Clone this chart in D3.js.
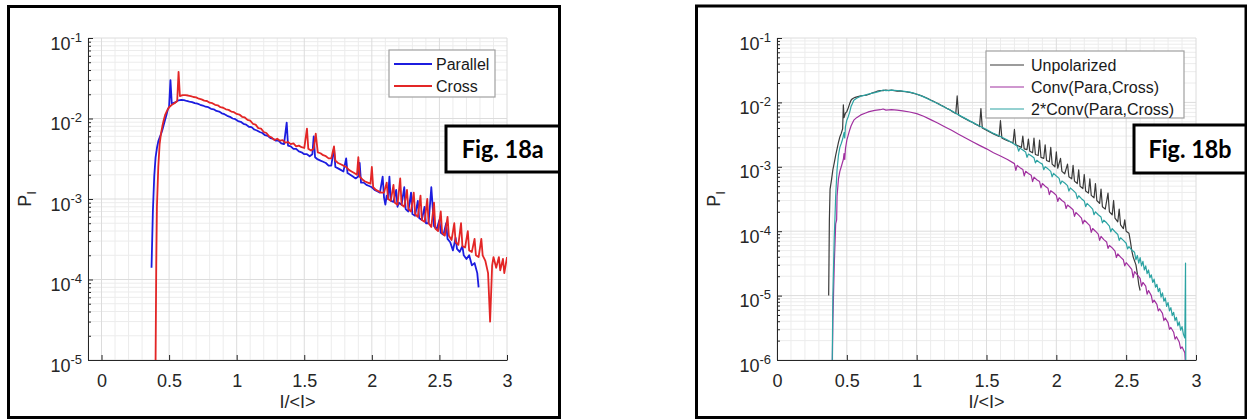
<!DOCTYPE html>
<html>
<head>
<meta charset="utf-8">
<script src="https://cdn.jsdelivr.net/npm/d3@7"></script>
<style>
  html, body { margin: 0; padding: 0; background: #fff; }
  svg { display: block; font-family: "Liberation Sans", Arial, Helvetica, sans-serif; }
</style>
</head>
<body>
<svg id="fig" width="1247" height="420"></svg>
<script>
// ---------- data: intensity PDFs, x = I/<I>, value = P_I ----------
const xTickValues = [0, 0.5, 1, 1.5, 2, 2.5, 3];

const parallel = [
  [0.37,1.4e-4],[0.38,7e-4],[0.39,1.9e-3],[0.40,3.3e-3],[0.41,4.3e-3],[0.42,5.2e-3],[0.43,5.8e-3],
  [0.44,6.4e-3],[0.45,7.2e-3],[0.46,8.3e-3],[0.47,9.6e-3],[0.48,1.1e-2],[0.49,1.28e-2],[0.50,1.4e-2],
  [0.51,3.0e-2],[0.52,1.5e-2],[0.53,1.55e-2],[0.55,1.6e-2],[0.57,1.68e-2],[0.59,1.7e-2],[0.61,1.69e-2],
  [0.63,1.65e-2],[0.65,1.62e-2],[0.67,1.6e-2],[0.69,1.55e-2],[0.71,1.53e-2],[0.73,1.48e-2],[0.75,1.45e-2],
  [0.77,1.4e-2],[0.79,1.38e-2],[0.81,1.32e-2],[0.83,1.3e-2],[0.85,1.24e-2],[0.87,1.22e-2],[0.89,1.16e-2],
  [0.91,1.13e-2],[0.93,1.08e-2],[0.95,1.05e-2],[0.97,1.0e-2],[0.99,9.8e-3],[1.01,9.3e-3],[1.03,9.1e-3],
  [1.05,8.6e-3],[1.07,8.4e-3],[1.09,7.9e-3],[1.11,7.8e-3],[1.13,7.3e-3],[1.15,7.1e-3],[1.17,6.8e-3],
  [1.19,6.6e-3],[1.21,6.2e-3],[1.23,6.1e-3],[1.25,5.7e-3],[1.27,5.6e-3],[1.29,5.3e-3],[1.31,5.3e-3],
  [1.33,4.9e-3],[1.35,4.8e-3],[1.37,8.9e-3],[1.38,4.6e-3],[1.40,4.5e-3],[1.42,4.2e-3],[1.44,4.2e-3],
  [1.46,3.9e-3],[1.48,3.8e-3],[1.50,3.6e-3],[1.52,3.6e-3],[1.54,3.4e-3],[1.56,3.6e-3],[1.57,6.0e-3],
  [1.58,3.3e-3],[1.60,3.1e-3],[1.62,3.0e-3],[1.64,2.9e-3],[1.66,2.8e-3],[1.68,2.6e-3],[1.70,2.6e-3],
  [1.72,4.3e-3],[1.73,2.5e-3],[1.75,2.4e-3],[1.77,2.3e-3],[1.79,2.2e-3],[1.81,3.2e-3],[1.82,2.1e-3],
  [1.84,2.0e-3],[1.86,1.9e-3],[1.88,1.8e-3],[1.90,1.9e-3],[1.91,2.8e-3],[1.92,1.6e-3],[1.94,1.6e-3],
  [1.96,1.5e-3],[1.98,1.45e-3],[2.00,1.4e-3],[2.02,1.3e-3],[2.04,1.25e-3],[2.06,1.2e-3],[2.08,1.9e-3],
  [2.09,1.05e-3],[2.10,8.5e-4],[2.11,1.1e-3],[2.12,1.0e-3],[2.13,1.9e-3],[2.14,9.5e-4],[2.16,9.2e-4],
  [2.18,1.3e-3],[2.19,8.0e-4],[2.20,9.0e-4],[2.22,8.5e-4],[2.24,1.4e-3],[2.25,7.5e-4],[2.27,7.0e-4],
  [2.29,1.2e-3],[2.30,6.5e-4],[2.32,6.2e-4],[2.34,9.5e-4],[2.35,5.8e-4],[2.37,5.5e-4],[2.39,8.0e-4],
  [2.40,5.0e-4],[2.42,5.0e-4],[2.44,1.4e-3],[2.46,4.6e-4],[2.48,4.2e-4],[2.50,5.5e-4],[2.51,3.8e-4],
  [2.53,3.6e-4],[2.55,5.0e-4],[2.56,3.2e-4],[2.58,2.9e-4],[2.60,2.3e-4],[2.62,3.3e-4],[2.63,2.4e-4],
  [2.65,2.2e-4],[2.67,2.6e-4],[2.68,2.0e-4],[2.70,1.8e-4],[2.72,2.0e-4],[2.74,1.5e-4],[2.76,1.6e-4],
  [2.78,1.2e-4],[2.79,8e-5]
];

const cross = [
  [0.395,5e-6],[0.40,1e-5],[0.405,1.5e-4],[0.41,8e-4],[0.42,2.5e-3],[0.43,4.8e-3],[0.44,6.5e-3],
  [0.45,8.0e-3],[0.46,9.5e-3],[0.47,1.1e-2],[0.48,1.2e-2],[0.49,1.3e-2],[0.50,1.38e-2],[0.52,1.48e-2],
  [0.54,1.55e-2],[0.56,1.65e-2],[0.57,3.8e-2],[0.58,1.9e-2],[0.60,1.95e-2],[0.62,1.95e-2],[0.64,1.93e-2],
  [0.66,1.9e-2],[0.68,1.85e-2],[0.70,1.83e-2],[0.72,1.76e-2],[0.74,1.73e-2],[0.76,1.67e-2],[0.78,1.65e-2],
  [0.80,1.57e-2],[0.82,1.55e-2],[0.84,1.48e-2],[0.86,1.46e-2],[0.88,1.38e-2],[0.90,1.36e-2],[0.92,1.3e-2],
  [0.94,1.28e-2],[0.96,1.22e-2],[0.98,1.2e-2],[1.00,1.14e-2],[1.02,1.12e-2],[1.04,1.05e-2],[1.06,1.03e-2],
  [1.08,9.6e-3],[1.10,9.4e-3],[1.12,8.6e-3],[1.14,8.4e-3],[1.16,7.6e-3],[1.18,7.5e-3],[1.20,6.8e-3],
  [1.22,6.6e-3],[1.24,6.0e-3],[1.26,5.8e-3],[1.28,5.4e-3],[1.30,5.6e-3],[1.32,5.3e-3],[1.34,5.4e-3],
  [1.36,5.0e-3],[1.38,5.1e-3],[1.40,4.8e-3],[1.42,4.9e-3],[1.44,4.5e-3],[1.46,4.6e-3],[1.48,4.4e-3],
  [1.50,4.3e-3],[1.52,7.5e-3],[1.53,4.2e-3],[1.55,4.0e-3],[1.57,4.2e-3],[1.585,6.5e-3],[1.60,3.8e-3],
  [1.62,3.7e-3],[1.64,3.5e-3],[1.66,3.4e-3],[1.68,3.2e-3],[1.70,3.2e-3],[1.72,4.5e-3],[1.73,3.0e-3],
  [1.75,2.8e-3],[1.77,2.7e-3],[1.79,2.6e-3],[1.81,2.5e-3],[1.83,2.3e-3],[1.85,2.2e-3],[1.87,2.1e-3],
  [1.89,2.0e-3],[1.90,3.3e-3],[1.91,1.9e-3],[1.93,1.75e-3],[1.95,1.65e-3],[1.97,1.6e-3],[1.99,1.55e-3],
  [2.00,2.5e-3],[2.01,1.4e-3],[2.03,1.3e-3],[2.05,1.25e-3],[2.07,1.2e-3],[2.09,1.2e-3],[2.11,1.6e-3],
  [2.12,1.0e-3],[2.14,9.5e-4],[2.16,1.5e-3],[2.17,9.0e-4],[2.19,8.5e-4],[2.21,1.8e-3],[2.22,8.5e-4],
  [2.24,8.0e-4],[2.26,1.3e-3],[2.27,7.5e-4],[2.29,7.0e-4],[2.31,1.2e-3],[2.32,6.5e-4],[2.34,6.0e-4],
  [2.36,1.1e-3],[2.37,5.5e-4],[2.39,5.2e-4],[2.41,1.0e-3],[2.42,5.0e-4],[2.44,4.5e-4],[2.46,9.0e-4],
  [2.47,4.3e-4],[2.49,4.0e-4],[2.51,7.0e-4],[2.52,3.8e-4],[2.54,3.5e-4],[2.56,6.0e-4],[2.57,3.5e-4],
  [2.59,3.1e-4],[2.61,5.0e-4],[2.62,2.9e-4],[2.64,2.7e-4],[2.66,5.0e-4],[2.67,2.6e-4],[2.69,2.5e-4],
  [2.71,4.0e-4],[2.72,2.3e-4],[2.74,2.2e-4],[2.76,3.2e-4],[2.77,2.0e-4],[2.79,1.9e-4],[2.81,3.2e-4],
  [2.82,2.0e-4],[2.84,1.7e-4],[2.86,1.2e-4],[2.875,3e-5],[2.89,1.5e-4],[2.90,1.9e-4],[2.92,1.4e-4],
  [2.94,1.9e-4],[2.95,1.3e-4],[2.97,1.8e-4],[2.98,1.2e-4],[3.00,1.9e-4]
];

const unpolarized = [
  [0.37,1.0e-5],[0.375,1.5e-4],[0.38,4.5e-4],[0.39,6.2e-4],[0.40,9e-4],[0.41,1.15e-3],[0.42,1.5e-3],
  [0.43,1.9e-3],[0.44,2.4e-3],[0.45,2.9e-3],[0.46,3.3e-3],[0.47,3.9e-3],[0.475,9.2e-3],[0.48,5.8e-3],
  [0.49,6.8e-3],[0.50,7.2e-3],[0.51,8.2e-3],[0.52,9.5e-3],[0.53,1.08e-2],[0.54,1.14e-2],[0.56,1.2e-2],
  [0.58,1.23e-2],[0.60,1.26e-2],[0.62,1.28e-2],[0.64,1.3e-2],[0.66,1.34e-2],[0.68,1.4e-2],[0.70,1.44e-2],
  [0.72,1.5e-2],[0.74,1.53e-2],[0.76,1.52e-2],[0.78,1.56e-2],[0.80,1.52e-2],[0.82,1.55e-2],[0.84,1.52e-2],
  [0.86,1.5e-2],[0.88,1.51e-2],[0.90,1.48e-2],[0.92,1.47e-2],[0.94,1.44e-2],[0.96,1.42e-2],[0.98,1.38e-2],
  [1.00,1.34e-2],[1.02,1.3e-2],[1.04,1.25e-2],[1.06,1.2e-2],[1.08,1.15e-2],[1.10,1.09e-2],[1.12,1.04e-2],
  [1.14,9.9e-3],[1.16,9.4e-3],[1.18,8.9e-3],[1.20,8.5e-3],[1.22,8.0e-3],[1.24,7.6e-3],[1.26,7.1e-3],
  [1.28,6.7e-3],[1.29,1.26e-2],[1.30,6.4e-3],[1.32,6.0e-3],[1.34,5.7e-3],[1.36,5.4e-3],[1.38,5.1e-3],
  [1.40,4.9e-3],[1.42,4.6e-3],[1.44,4.4e-3],[1.45,4.2e-3],[1.46,8.0e-3],[1.47,4.0e-3],[1.49,3.8e-3],
  [1.51,3.6e-3],[1.53,3.4e-3],[1.55,3.25e-3],[1.57,3.1e-3],[1.59,2.95e-3],[1.60,5.2e-3],[1.61,2.8e-3],
  [1.63,2.65e-3],[1.65,2.55e-3],[1.67,2.45e-3],[1.69,2.35e-3],[1.70,3.8e-3],[1.71,2.2e-3],[1.73,2.1e-3],
  [1.75,2.0e-3],[1.76,3.0e-3],[1.77,1.9e-3],[1.79,1.85e-3],[1.80,2.7e-3],[1.81,1.75e-3],[1.83,1.65e-3],
  [1.84,2.8e-3],[1.85,1.55e-3],[1.87,1.5e-3],[1.88,2.6e-3],[1.89,1.4e-3],[1.91,1.35e-3],[1.92,2.2e-3],
  [1.93,1.25e-3],[1.95,1.2e-3],[1.96,2.0e-3],[1.97,1.1e-3],[1.99,1.0e-3],[2.00,1.7e-3],[2.01,9.5e-4],
  [2.03,1.35e-3],[2.04,8.5e-4],[2.06,7.8e-4],[2.08,1.1e-3],[2.09,7.0e-4],[2.11,6.5e-4],[2.12,1.05e-3],
  [2.13,6.0e-4],[2.15,5.5e-4],[2.16,9.0e-4],[2.17,5.0e-4],[2.19,4.6e-4],[2.20,7.6e-4],[2.21,4.2e-4],
  [2.23,3.9e-4],[2.24,6.5e-4],[2.25,3.6e-4],[2.27,3.3e-4],[2.28,5.5e-4],[2.29,3.0e-4],[2.31,2.7e-4],
  [2.32,4.5e-4],[2.33,2.4e-4],[2.35,2.2e-4],[2.37,3.9e-4],[2.38,2.0e-4],[2.40,1.8e-4],[2.41,3.0e-4],
  [2.42,1.6e-4],[2.44,1.4e-4],[2.45,2.2e-4],[2.46,1.25e-4],[2.48,1.1e-4],[2.49,1.5e-4],[2.50,1.0e-4],
  [2.52,9.3e-5],[2.53,7e-5],[2.54,5e-5],[2.55,4e-5],[2.57,3e-5],[2.58,2.2e-5],[2.59,1.5e-5],[2.60,1.2e-5]
];

const convParaCross = [
  [0.395,6e-7],[0.40,4e-6],[0.41,3e-5],[0.42,1.3e-4],[0.427,1.5e-4],[0.43,3.5e-4],[0.44,6.5e-4],
  [0.45,8.5e-4],[0.46,1.0e-3],[0.475,1.3e-3],[0.48,1.6e-3],[0.485,1.3e-3],[0.49,1.9e-3],[0.50,2.6e-3],
  [0.51,3.1e-3],[0.52,3.7e-3],[0.53,4.3e-3],[0.54,4.8e-3],[0.55,5.3e-3],[0.57,5.8e-3],[0.60,6.4e-3],
  [0.63,6.8e-3],[0.66,7.2e-3],[0.70,7.5e-3],[0.74,7.7e-3],[0.76,7.9e-3],[0.78,7.6e-3],[0.82,7.7e-3],
  [0.86,7.6e-3],[0.90,7.4e-3],[0.95,7.1e-3],[1.00,6.7e-3],[1.05,6.1e-3],[1.10,5.4e-3],[1.15,4.8e-3],
  [1.20,4.2e-3],[1.25,3.7e-3],[1.30,3.2e-3],[1.35,2.8e-3],[1.40,2.45e-3],[1.45,2.15e-3],[1.50,1.9e-3],
  [1.55,1.65e-3],[1.60,1.47e-3],[1.65,1.3e-3],[1.70,1.12e-3],[1.71,8.8e-4],[1.72,1.05e-3],[1.74,9.7e-4],
  [1.76,9.1e-4],[1.77,7.2e-4],[1.78,8.5e-4],[1.80,7.9e-4],[1.82,7.4e-4],[1.83,5.9e-4],[1.84,6.9e-4],
  [1.86,6.3e-4],[1.88,5.9e-4],[1.89,4.7e-4],[1.90,5.5e-4],[1.92,5.0e-4],[1.94,4.65e-4],[1.95,3.7e-4],
  [1.96,4.25e-4],[1.98,3.95e-4],[2.00,3.6e-4],[2.01,2.9e-4],[2.02,3.3e-4],[2.04,3.0e-4],[2.06,2.8e-4],
  [2.07,2.25e-4],[2.08,2.55e-4],[2.10,2.35e-4],[2.12,2.15e-4],[2.13,1.7e-4],[2.14,1.95e-4],[2.16,1.78e-4],
  [2.18,1.6e-4],[2.19,1.3e-4],[2.20,1.48e-4],[2.22,1.35e-4],[2.24,1.22e-4],[2.25,9.6e-5],[2.26,1.1e-4],
  [2.28,1.0e-4],[2.30,9.0e-5],[2.31,7.2e-5],[2.32,8.3e-5],[2.34,7.4e-5],[2.36,6.8e-5],[2.37,5.4e-5],
  [2.38,6.0e-5],[2.40,5.5e-5],[2.42,4.9e-5],[2.43,3.9e-5],[2.44,4.45e-5],[2.46,3.95e-5],[2.48,3.6e-5],
  [2.49,2.9e-5],[2.50,3.25e-5],[2.52,2.9e-5],[2.54,2.55e-5],[2.55,1.9e-5],[2.56,2.35e-5],[2.58,2.1e-5],
  [2.60,1.85e-5],[2.61,1.4e-5],[2.62,1.6e-5],[2.64,1.4e-5],[2.65,1.05e-5],[2.66,1.2e-5],[2.68,1.0e-5],
  [2.69,7.8e-6],[2.70,8.5e-6],[2.72,7.3e-6],[2.73,5.8e-6],[2.74,6.2e-6],[2.76,5.3e-6],[2.77,4.1e-6],
  [2.78,4.5e-6],[2.80,3.8e-6],[2.81,3.0e-6],[2.82,3.2e-6],[2.84,2.7e-6],[2.85,2.1e-6],[2.86,2.3e-6],
  [2.88,1.9e-6],[2.89,1.5e-6],[2.90,1.6e-6],[2.92,1.3e-6],[2.925,8e-7]
];

const twiceConv = [
  [0.395,7e-7],[0.40,1e-5],[0.41,8e-5],[0.415,1.6e-4],[0.42,3.5e-4],[0.43,9e-4],[0.44,1.5e-3],
  [0.45,2.0e-3],[0.46,2.3e-3],[0.47,2.7e-3],[0.48,3.4e-3],[0.485,2.8e-3],[0.49,4.2e-3],[0.50,5.3e-3],
  [0.51,6.0e-3],[0.52,7.0e-3],[0.53,8.6e-3],[0.54,9.6e-3],[0.55,1.08e-2],[0.57,1.16e-2],[0.60,1.25e-2],
  [0.63,1.3e-2],[0.66,1.36e-2],[0.70,1.42e-2],[0.74,1.5e-2],[0.76,1.56e-2],[0.78,1.52e-2],[0.82,1.55e-2],
  [0.86,1.53e-2],[0.90,1.5e-2],[0.95,1.44e-2],[1.00,1.35e-2],[1.05,1.22e-2],[1.10,1.08e-2],[1.15,9.6e-3],
  [1.20,8.4e-3],[1.25,7.4e-3],[1.30,6.4e-3],[1.35,5.6e-3],[1.40,4.9e-3],[1.45,4.3e-3],[1.50,3.8e-3],
  [1.55,3.3e-3],[1.60,2.95e-3],[1.65,2.6e-3],[1.70,2.24e-3],[1.72,2.09e-3],[1.73,1.75e-3],[1.74,1.95e-3],
  [1.76,1.82e-3],[1.78,1.7e-3],[1.79,1.4e-3],[1.80,1.58e-3],[1.82,1.48e-3],[1.84,1.38e-3],[1.85,1.15e-3],
  [1.86,1.26e-3],[1.88,1.17e-3],[1.90,1.1e-3],[1.91,9e-4],[1.92,1.0e-3],[1.94,9.3e-4],[1.96,8.5e-4],
  [1.97,7.0e-4],[1.98,7.9e-4],[2.00,7.2e-4],[2.02,6.6e-4],[2.03,5.4e-4],[2.04,6.0e-4],[2.06,5.6e-4],
  [2.08,5.1e-4],[2.09,4.2e-4],[2.10,4.7e-4],[2.12,4.3e-4],[2.14,3.9e-4],[2.15,3.2e-4],[2.16,3.55e-4],
  [2.18,3.2e-4],[2.20,2.95e-4],[2.21,2.4e-4],[2.22,2.7e-4],[2.24,2.45e-4],[2.26,2.2e-4],[2.27,1.8e-4],
  [2.28,2.0e-4],[2.30,1.8e-4],[2.32,1.66e-4],[2.33,1.35e-4],[2.34,1.48e-4],[2.36,1.35e-4],[2.38,1.2e-4],
  [2.39,9.8e-5],[2.40,1.1e-4],[2.42,9.8e-5],[2.44,8.9e-5],[2.45,7.2e-5],[2.46,7.9e-5],[2.48,7.2e-5],
  [2.50,6.5e-5],[2.51,5.3e-5],[2.52,5.75e-5],[2.54,5.1e-5],[2.56,4.7e-5],[2.57,3.6e-5],[2.58,4.2e-5],
  [2.59,3.2e-5],[2.60,3.9e-5],[2.61,2.9e-5],[2.62,3.4e-5],[2.63,2.5e-5],[2.64,2.9e-5],[2.65,2.2e-5],
  [2.66,2.5e-5],[2.67,1.9e-5],[2.68,2.1e-5],[2.69,1.6e-5],[2.70,1.8e-5],[2.71,1.35e-5],[2.72,1.5e-5],
  [2.73,1.15e-5],[2.74,1.3e-5],[2.75,9.5e-6],[2.76,1.1e-5],[2.77,8.2e-6],[2.78,9.2e-6],[2.79,6.8e-6],
  [2.80,7.8e-6],[2.81,5.8e-6],[2.82,6.5e-6],[2.83,4.9e-6],[2.84,5.5e-6],[2.85,4.1e-6],[2.86,4.6e-6],
  [2.87,3.4e-6],[2.88,3.9e-6],[2.89,2.9e-6],[2.90,3.3e-6],[2.91,2.5e-6],[2.92,2.2e-6],[2.925,3.2e-5],
  [2.927,8e-7]
];

// ---------- drawing ----------
const svg = d3.select("#fig");
const TEXT = "#262626";

function drawPanel(cfg) {
  const g = svg.append("g");
  const p = cfg.plot;
  const x = d3.scaleLinear().domain(cfg.xDomain).range([p.left, p.right]);
  const y = d3.scaleLog().domain(cfg.yDomain).range([p.bottom, p.top]);

  // outer frame
  g.append("rect")
    .attr("x", cfg.frame[0]).attr("y", cfg.frame[1])
    .attr("width", cfg.frame[2]).attr("height", cfg.frame[3])
    .attr("fill", "none").attr("stroke", "#000").attr("stroke-width", 3);

  const eLo = Math.round(Math.log10(cfg.yDomain[0]));
  const eHi = Math.round(Math.log10(cfg.yDomain[1]));
  const decades = d3.range(eLo, eHi + 1).map(e => Math.pow(10, e));
  const yMinor = [];
  for (let e = eLo; e < eHi; e++) for (let k = 2; k <= 9; k++) yMinor.push(k * Math.pow(10, e));
  const xMinor = [];
  for (let v = Math.round(cfg.xDomain[0] * 10); v <= Math.round(cfg.xDomain[1] * 10); v++) {
    if (v % 5 !== 0) xMinor.push(v / 10);
  }

  // grid
  const grid = g.append("g");
  grid.selectAll(".xmin").data(xMinor).join("line")
    .attr("x1", d => x(d)).attr("x2", d => x(d)).attr("y1", p.top).attr("y2", p.bottom)
    .attr("stroke", "#ececec").attr("stroke-width", 1);
  grid.selectAll(".ymin").data(yMinor).join("line")
    .attr("x1", p.left).attr("x2", p.right).attr("y1", d => y(d)).attr("y2", d => y(d))
    .attr("stroke", "#ececec").attr("stroke-width", 1);
  grid.selectAll(".xmaj").data(xTickValues).join("line")
    .attr("x1", d => x(d)).attr("x2", d => x(d)).attr("y1", p.top).attr("y2", p.bottom)
    .attr("stroke", "#dcdcdc").attr("stroke-width", 1);
  grid.selectAll(".ymaj").data(decades).join("line")
    .attr("x1", p.left).attr("x2", p.right).attr("y1", d => y(d)).attr("y2", d => y(d))
    .attr("stroke", "#dcdcdc").attr("stroke-width", 1);

  // series
  const clipId = "clip-" + cfg.id;
  g.append("clipPath").attr("id", clipId).append("rect")
    .attr("x", p.left).attr("y", p.top - 2).attr("width", p.right - p.left).attr("height", p.bottom - p.top + 2);
  const line = d3.line().x(d => x(d[0])).y(d => y(d[1]));
  const curves = g.append("g").attr("clip-path", `url(#${clipId})`);
  cfg.series.forEach(s => {
    curves.append("path").datum(s.data)
      .attr("d", line).attr("fill", "none")
      .attr("stroke", s.color).attr("stroke-width", s.width)
      .attr("stroke-linejoin", "round");
  });

  // axes
  g.append("g").attr("transform", `translate(${p.left},0)`)
    .call(d3.axisLeft(y).tickValues(decades).tickSizeInner(-5).tickSizeOuter(0).tickFormat(() => ""));
  g.append("g").attr("transform", `translate(${p.left},0)`)
    .call(d3.axisLeft(y).tickValues(yMinor).tickSizeInner(-3).tickSizeOuter(0).tickFormat(() => ""))
    .call(a => a.select(".domain").remove());
  const xAxis = g.append("g").attr("transform", `translate(0,${p.bottom})`)
    .call(d3.axisBottom(x).tickValues(xTickValues).tickSizeInner(-5).tickSizeOuter(0)
      .tickPadding(14).tickFormat(d => String(d)));
  g.selectAll(".domain, .tick line").attr("stroke", TEXT);
  xAxis.selectAll("text").attr("fill", TEXT).attr("font-size", 18)
    .attr("font-family", "Liberation Sans, Arial, sans-serif");

  // decade labels 10^n
  decades.forEach(v => {
    const e = Math.round(Math.log10(v));
    const t = g.append("text").attr("x", p.left - 6).attr("y", y(v) + 11.5)
      .attr("text-anchor", "end").attr("fill", TEXT).attr("font-size", 18);
    t.append("tspan").text("10");
    t.append("tspan").attr("dy", -8).attr("font-size", 13).text(String(e));
  });

  // axis titles
  const yl = g.append("text")
    .attr("transform", `translate(${p.left - 57},${(p.top + p.bottom) / 2}) rotate(-90)`)
    .attr("text-anchor", "middle").attr("fill", TEXT).attr("font-size", 18);
  yl.append("tspan").text("P");
  yl.append("tspan").attr("dy", 5).attr("font-size", 13).text("I");
  g.append("text").attr("x", (p.left + p.right) / 2).attr("y", p.bottom + 48)
    .attr("text-anchor", "middle").attr("fill", TEXT).attr("font-size", 18).text("I/<I>");

  // legend
  const L = cfg.legend;
  g.append("rect").attr("x", L.box[0]).attr("y", L.box[1]).attr("width", L.box[2]).attr("height", L.box[3])
    .attr("fill", "#fff").attr("stroke", "#a0a0a0").attr("stroke-width", 1.2);
  cfg.series.forEach((s, i) => {
    const yy = L.box[1] + L.rowTop + i * L.rowStep;
    g.append("line").attr("x1", L.box[0] + L.lineFrom).attr("x2", L.box[0] + L.lineTo)
      .attr("y1", yy).attr("y2", yy).attr("stroke", s.color).attr("stroke-width", s.width);
    g.append("text").attr("x", L.box[0] + L.textAt).attr("y", yy + 6)
      .attr("fill", "#1a1a1a").attr("font-size", 16).text(s.name);
  });

  // figure tag
  const T = cfg.tag;
  g.append("rect").attr("x", T.box[0]).attr("y", T.box[1]).attr("width", T.box[2]).attr("height", T.box[3])
    .attr("fill", "#fff").attr("stroke", "#000").attr("stroke-width", 3);
  g.append("text").attr("x", T.box[0] + T.box[2] / 2 + T.dx).attr("y", T.box[1] + T.box[3] / 2 + 9)
    .attr("text-anchor", "middle").attr("font-family", "Lato, 'Open Sans', sans-serif")
    .attr("font-weight", "bold").attr("font-size", 25)
    .attr("textLength", T.len).attr("lengthAdjust", "spacingAndGlyphs")
    .attr("fill", "#000").text(T.text);
}

drawPanel({
  id: "a",
  frame: [8.5, 6.5, 551, 411],
  plot: { left: 88, right: 507, top: 38, bottom: 360 },
  xDomain: [-0.1, 3], yDomain: [1e-5, 1e-1],
  series: [
    { name: "Parallel", data: parallel, color: "#1c1cdf", width: 1.8 },
    { name: "Cross", data: cross, color: "#e32626", width: 1.8 }
  ],
  legend: { box: [389, 50, 106, 47], rowTop: 14, rowStep: 22, lineFrom: 5, lineTo: 43, textAt: 47 },
  tag: { box: [446, 126, 113.5, 46], text: "Fig. 18a", len: 82, dx: 0 }
});

drawPanel({
  id: "b",
  frame: [696.5, 6, 549.5, 411.5],
  plot: { left: 777, right: 1196, top: 38, bottom: 360 },
  xDomain: [0, 3], yDomain: [1e-6, 1e-1],
  series: [
    { name: "Unpolarized", data: unpolarized, color: "#3a3a3a", width: 1.2 },
    { name: "Conv(Para,Cross)", data: convParaCross, color: "#a0309f", width: 1.2 },
    { name: "2*Conv(Para,Cross)", data: twiceConv, color: "#2ca3a3", width: 1.2 }
  ],
  legend: { box: [986, 51, 198, 67], rowTop: 14, rowStep: 22, lineFrom: 4, lineTo: 38, textAt: 45 },
  tag: { box: [1134, 125, 112, 48], text: "Fig. 18b", len: 83, dx: 0 }
});
</script>
</body>
</html>
